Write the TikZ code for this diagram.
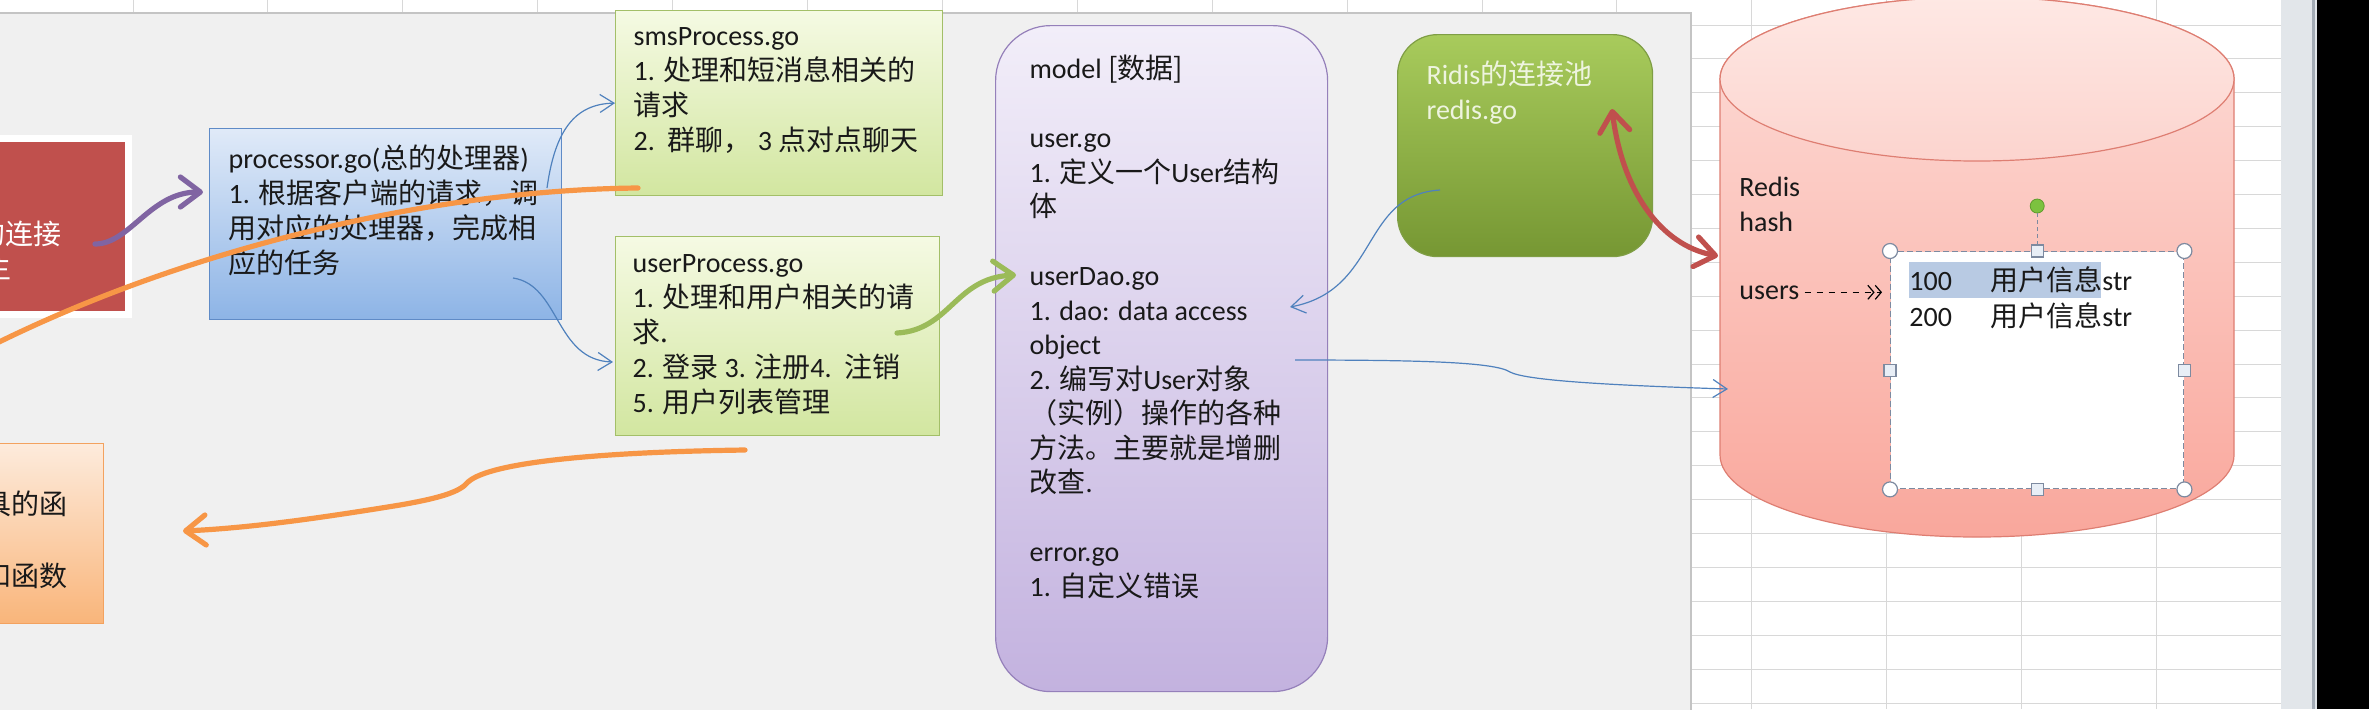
\documentclass[tikz,border=0pt]{standalone}
\usepackage{fontspec}
\setmainfont{Carlito}
\newfontfamily\cjk{Noto Sans CJK SC}
\newcommand{\zh}[1]{{\cjk #1}}
\usetikzlibrary{positioning}
\usetikzlibrary{arrows.meta}
\usetikzlibrary{calc}
\usepackage{xcolor}
\definecolor{panelgray}{HTML}{F0F0F0}
\definecolor{paneledge}{HTML}{C4C4C4}
\definecolor{gridgray}{HTML}{D8D8D8}
\definecolor{mainred}{HTML}{C0504D}
\definecolor{proctop}{HTML}{E0EAF8}
\definecolor{procbot}{HTML}{8DB4E6}
\definecolor{procedge}{HTML}{5F8BC7}
\definecolor{filetop}{HTML}{F5FAE3}
\definecolor{filebot}{HTML}{D2E6A0}
\definecolor{fileedge}{HTML}{A3BF68}
\definecolor{modeltop}{HTML}{F2EEF9}
\definecolor{modelbot}{HTML}{C3B2DF}
\definecolor{modeledge}{HTML}{9580BA}
\definecolor{pooltop}{HTML}{A8CB5C}
\definecolor{poolbot}{HTML}{769733}
\definecolor{pooledge}{HTML}{7F9E45}
\definecolor{pooltext}{HTML}{EEF4DF}
\definecolor{cyltop}{HTML}{FDDDD8}
\definecolor{cylbot}{HTML}{F9A79C}
\definecolor{cyledge}{HTML}{DE7E72}
\definecolor{facetop}{HTML}{FEE8E4}
\definecolor{facebot}{HTML}{FCD4CE}
\definecolor{utiltop}{HTML}{FDEBDC}
\definecolor{utilbot}{HTML}{F9B57A}
\definecolor{utiledge}{HTML}{F3A25F}
\definecolor{orangeline}{HTML}{F79646}
\definecolor{purpleline}{HTML}{8064A2}
\definecolor{greenline}{HTML}{9BBB59}
\definecolor{redline}{HTML}{C0504D}
\definecolor{linkblue}{HTML}{4F81BD}
\definecolor{hilite}{HTML}{B8CAE3}
\definecolor{seledge}{HTML}{7D8AA0}
\definecolor{sqfill}{HTML}{E8EEF6}
\definecolor{rotgreen}{HTML}{7CC23F}
\definecolor{rotedge}{HTML}{5E9B2C}
\definecolor{scrollgray}{HTML}{E2E6EA}
\definecolor{scrolledge}{HTML}{A3ABB5}

\begin{document}
\begin{tikzpicture}[
		x=0.5pt, y=-0.5pt,
		% Compact style definitions (1 unit = 1 screen pixel)
		txt/.style={font=\fontsize{14pt}{17.5pt}\selectfont, text=black!90},
		gridline/.style={draw=gridgray, line width=0.5pt},
		procbox/.style={txt, draw=procedge, line width=0.6pt, top color=proctop, bottom color=procbot, anchor=north west, inner xsep=9.5pt, inner ysep=7.5pt},
		filebox/.style={txt, draw=fileedge, line width=0.6pt, top color=filetop, bottom color=filebot, anchor=north west, inner xsep=9pt, inner ysep=5pt},
		modelbox/.style={font=\fontsize{14pt}{17.25pt}\selectfont, text=black!90, draw=modeledge, line width=0.6pt, top color=modeltop, bottom color=modelbot, rounded corners=27.5pt, anchor=north west, inner xsep=17pt, inner ysep=14.5pt},
		poolbox/.style={txt, text=pooltext, draw=pooledge, line width=0.6pt, top color=pooltop, bottom color=poolbot, rounded corners=20pt, anchor=north west, inner xsep=14.5pt, inner ysep=12.5pt},
		plaintext/.style={txt, inner sep=0pt},
		thinarrow/.style={-{Straight Barb[length=7pt,width=9pt]}, draw=linkblue, line width=0.6pt},
		fatarrow/.style={line width=2.6pt, line cap=round, -{Straight Barb[length=10pt,width=15pt,round]}},
		handle/.style={draw=seledge, fill=white, line width=0.6pt},
		sqhandle/.style={draw=seledge, fill=sqfill, line width=0.6pt, minimum size=6pt, inner sep=0pt},
	]
	\useasboundingbox (0,0) rectangle (2369,709);
	\clip (0,0) rectangle (2369,709);

	% Sheet background and grid
	\fill[white] (0,0) rectangle (2369,709);
	\foreach \k in {0,...,15}
		\draw[gridline] ({133+134.9*\k},0) -- ({133+134.9*\k},709);
	\foreach \k in {0,...,20}
		\draw[gridline] (1691,{25+33.9*\k}) -- (2281,{25+33.9*\k});
	\filldraw[fill=panelgray, draw=paneledge, line width=0.8pt] (-10,12.7) rectangle (1691,720);
	\fill[scrollgray] (2281,0) rectangle (2317,709);
	\draw[scrolledge, line width=1.5pt] (2313,0) -- (2313,709);
	\fill[black] (2317,0) rectangle (2369,709);

	% Boxes cut by the left edge
	\node[draw=white, line width=3.5pt, fill=mainred, anchor=north east, minimum width=95.75pt, minimum height=88.25pt, inner sep=0pt] (mainbox) at (131.5,134.5) {};
	\node[plaintext, text=white, anchor=base east] (maintxt) at (62,244) {\zh{的连接}};
	\node[plaintext, text=white, anchor=base east] (maintxtb) at (12,278) {\zh{主}};
	\node[draw=utiledge, line width=0.6pt, top color=utiltop, bottom color=utilbot, anchor=north east, minimum width=75pt, minimum height=90pt, inner sep=0pt] (utils) at (104,443) {};
	\node[plaintext, anchor=base east] (utiltxt) at (68,514) {\zh{具的函}};
	\node[plaintext, anchor=base east] (utiltxtb) at (68,586) {\zh{和函数}};

	% Processors
	\node[procbox] (proc) at (209,128) {\parbox[t][80.5pt][t]{157pt}{\strut processor.go(\zh{总的处理器})\\1. \zh{根据客户端的请求，调}\\\zh{用对应的处理器，完成相}\\\zh{应的任务}}};
	\node[filebox] (sms) at (615,10) {\parbox[t][82.5pt][t]{145.5pt}{\strut smsProcess.go\\1. \zh{处理和短消息相关的}\\\zh{请求}\\2.~~\zh{群聊，}~3~\zh{点对点聊天}}};
	\node[filebox, below=20pt of sms.south west, anchor=north west, inner xsep=8.5pt, inner ysep=5.5pt] (user) {\parbox[t][88.5pt][t]{145pt}{\strut userProcess.go\\1. \zh{处理和用户相关的请}\\\zh{求.}\\2. \zh{登录} 3. \zh{注册}4.~~\zh{注销}\\5. \zh{用户列表管理}}};

	% Model and Redis pool
	\node[modelbox] (model) at (995,25) {\parbox[t][304pt][t]{132pt}{\strut model \zh{[数据]}\\[17.25pt]user.go\\1. \zh{定义一个}User\zh{结构}\\\zh{体}\\[17.25pt]userDao.go\\1. dao: data access\\object\\2. \zh{编写对}User\zh{对象}\\\zh{（实例）操作的各种}\\\zh{方法。主要就是增删}\\\zh{改查}.\\[17.25pt]error.go\\1. \zh{自定义错误}}};
	\node[poolbox] (pool) at (1397,34) {\parbox[t][86pt][t]{98.5pt}{\strut Ridis\zh{的连接池}\\redis.go}};

	% Redis cylinder
	\shadedraw[top color=cyltop, bottom color=cylbot, draw=cyledge, line width=0.6pt] (1720,79) -- (1720,455) arc[start angle=180, end angle=360, x radius=128.5pt, y radius=41pt] -- (2234,79) arc[start angle=0, end angle=180, x radius=128.5pt, y radius=41pt] -- cycle;
	\shadedraw[top color=facetop, bottom color=facebot, draw=cyledge, line width=0.6pt] (1977,79) ellipse[x radius=128.5pt, y radius=41pt];
	\node[plaintext, anchor=north west] (rtype) at (1739,172) {\parbox[t]{60pt}{\strut Redis\\hash}};
	\node[plaintext, anchor=base west] (users) at (1739,299) {users};

	% Selected hash text box
	\node[draw=seledge, dash pattern=on 3pt off 1.5pt, line width=0.7pt, fill=white, anchor=north west, minimum width=146.5pt, minimum height=118.5pt, inner sep=0pt] (sel) at (1890,251) {};
	\fill[hilite] (1909,262) rectangle (2101,298);
	\node[plaintext, anchor=base west] (key1) at (1909,290) {100};
	\node[plaintext, anchor=base west] (val1) at (1990,290) {\zh{用户信息}str};
	\node[plaintext, anchor=base west] (key2) at (1909,326) {200};
	\node[plaintext, anchor=base west] (val2) at (1990,326) {\zh{用户信息}str};
	\node[circle, draw=rotedge, fill=rotgreen, minimum size=7pt, inner sep=0pt] (rot) at ($(sel.north)+(0,-45)$) {};
	\draw[seledge, dash pattern=on 2pt off 1.5pt, line width=0.6pt] (rot.south) -- (sel.north);
	\foreach \c in {north west, north east, south west, south east}
		\draw[handle] (sel.\c) circle[radius=3.75pt];
	\foreach \c in {north, south, west, east}
		\node[sqhandle] (sq-\c) at (sel.\c) {};
	\draw[dashed, line width=0.6pt, shorten <=2.5pt, shorten >=4pt, -{Straight Barb[length=3pt,width=7pt]Straight Barb[length=3pt,width=7pt]}] (users.east) -- (users.east -| sel.west);

	% Connector ends
	\coordinate (mainout) at (95,244);
	\coordinate (procin) at (203,192);
	\coordinate (proca) at (547,188);
	\coordinate (procb) at (513,278);
	\coordinate (userin) at (613,362);
	\coordinate (userout) at (897,333);
	\coordinate (daoin) at (1016,275);
	\coordinate (poolout) at (1440,190);
	\coordinate (daoa) at (1290,307);
	\coordinate (daob) at (1295,360);
	\coordinate (cylb) at (1728,389);
	\coordinate (poolin) at (1612,109);
	\coordinate (cylin) at (1718,256);
	\coordinate (smsout) at (638,188);
	\coordinate (offleft) at (-40,362);
	\coordinate (userbelow) at (745,450);
	\coordinate (utilsin) at (183,531);

	% Thin connectors
	\draw[thinarrow] (proca) .. controls (555,130) and (575,104) .. (sms.west);
	\draw[thinarrow] (procb) .. controls (560,285) and (555,360) .. (userin);
	\draw[thinarrow] (poolout) .. controls (1360,195) and (1380,290) .. (daoa);
	\draw[thinarrow] (daob) .. controls (1420,360) and (1495,362) .. (1510,372) .. controls (1525,380) and (1600,385) .. (cylb);

	% Thick connectors
	\draw[fatarrow, draw=purpleline] (mainout) .. controls (130,244) and (150,192) .. (procin);
	\draw[fatarrow, draw=greenline] (userout) .. controls (950,330) and (955,278) .. (daoin);
	\draw[line width=2.6pt, line cap=round, draw=orangeline] (smsout) .. controls (420,190) and (160,255) .. (offleft);
	\draw[fatarrow, draw=orangeline] (userbelow) .. controls (600,452) and (490,462) .. (468,482) .. controls (460,492) and (440,498) .. (400,505) .. controls (320,518) and (250,528) .. (utilsin);
	\draw[fatarrow, draw=redline, {Straight Barb[length=10pt,width=15pt,round]}-{Straight Barb[length=10pt,width=15pt,round]}] (poolin) .. controls (1622,190) and (1660,245) .. (cylin);

\end{tikzpicture}
\end{document}
